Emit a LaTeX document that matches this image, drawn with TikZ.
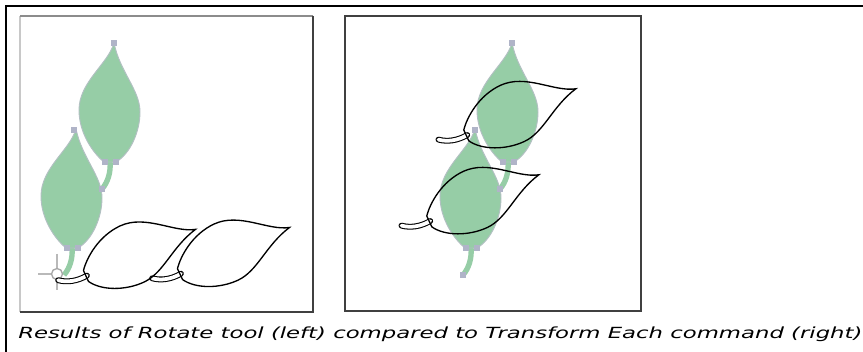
\documentclass[tikz,border=0pt]{standalone}
\usepackage{fontspec}
\newfontfamily\captionfont{DejaVu Sans}
\usepackage{tikz}

\definecolor{leafgreen}{RGB}{150,205,166}
\definecolor{leafedge}{RGB}{178,192,194}
\definecolor{handlegray}{RGB}{176,180,200}
\definecolor{framedark}{RGB}{64,64,64}
\definecolor{framelight}{RGB}{200,200,200}
\definecolor{framemid}{RGB}{140,140,140}

% leaf and stem, base of the leaf at the origin (y runs downwards)
\newcommand{\leafshape}{(6,0) .. controls (20,-8) and (30,-30) .. (30,-50)
  .. controls (30,-72) and (10,-90) .. (4,-119)
  .. controls (-2,-98) and (-31,-80) .. (-31,-52)
  .. controls (-31,-28) and (-16,-8) .. (-6,0) -- cycle}
\newcommand{\stemshape}{(0,-1) .. controls (1,10) and (-2,20) .. (-8,27)}

\newcommand{\greenleaf}[1]{
  \begin{scope}[shift={#1}]
    \draw[greenstem] \stemshape;
    \path[greenleaf] \leafshape;
  \end{scope}}
\newcommand{\inkleaf}[1]{
  \begin{scope}[shift={#1}]
    \draw[inkstem] \stemshape;
    \draw[paperstem] \stemshape;
    \path[inkline] \leafshape;
  \end{scope}}

\begin{document}
\begin{tikzpicture}[
      x=0.75pt, y=-0.75pt
    ]

    \tikzstyle{greenleaf} = [fill=leafgreen, draw=leafedge, line width=0.7pt]
    \tikzstyle{greenstem} = [draw=leafgreen, line width=4pt]
    \tikzstyle{inkline} = [draw=black, line width=1pt]
    \tikzstyle{inkstem} = [draw=black, line width=4.4pt, line cap=round]
    \tikzstyle{paperstem} = [draw=white, line width=2.8pt, line cap=round]
    \tikzstyle{handle} = [fill=handlegray]
    \tikzstyle{panel} = [line width=1.1pt]

    \useasboundingbox (0,0) rectangle (863,352);
    \fill[white] (0,0) rectangle (863,352);

    \draw[line width=1.9pt] (6,352) -- (6,6) -- (863,6);

    % left panel: rotate tool
    \draw[panel, framelight] (20,312) -- (20,16);
    \draw[panel, framemid] (20,16) -- (313,16);
    \draw[panel, framedark] (313,16) -- (313,312) -- (20,312);

    \greenleaf{(110,162)}
    \greenleaf{(72,248)}

    \draw[gray!55, line width=1pt] (38,274) -- (52,274) (57,254) -- (57,290);
    \draw[gray!70, fill=white, line width=1pt] (57,274) circle (5.5);

    \begin{scope}[rotate around={-65:(57,273)}]
      \inkleaf{(110,162)}
      \inkleaf{(72,248)}
    \end{scope}

    \foreach \p in {(114,43),(105,162),(116,162),(102,189),(74,130),(67,248),(78,248)}
      \fill[handle] \p ++(-2.6,-2.6) rectangle ++(5.2,5.2);

    % right panel: transform each
    \draw[panel, framedark] (345,16) rectangle (641,311);

    \greenleaf{(508,162)}
    \greenleaf{(471,248)}

    \begin{scope}[rotate around={-65:(508,116)}]
      \inkleaf{(508,162)}
    \end{scope}
    \begin{scope}[rotate around={-65:(471,202)}]
      \inkleaf{(471,248)}
    \end{scope}

    \foreach \p in {(512,43),(503,162),(514,162),(500,189),(475,130),(466,248),(477,248),(463,275)}
      \fill[handle] \p ++(-2.6,-2.6) rectangle ++(5.2,5.2);

    \node[anchor=base west, inner sep=0pt] (caption) at (18,339) {\resizebox{633pt}{\height}{\captionfont\itshape\fontsize{11.5pt}{13pt}\selectfont Results of Rotate tool (left) compared to Transform Each command (right)}};

\end{tikzpicture}
\end{document}
